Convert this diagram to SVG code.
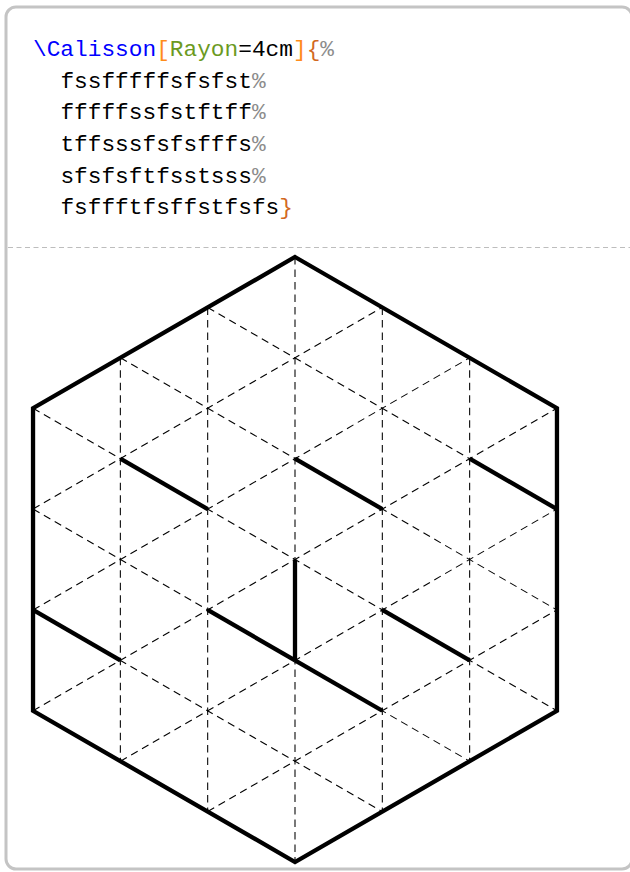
<svg xmlns="http://www.w3.org/2000/svg" width="630" height="872" viewBox="0 0 630 872">
<style>
.code{font-family:"Liberation Mono","DejaVu Sans Mono",monospace;font-size:22.8px;fill:#000}
.kw{fill:#0000ff}
.br{fill:#ff8c1a}
.opt{fill:#6b9a1f}
.brace{fill:#d2691e}
.cm{fill:#8c8c8c}
.grid line{stroke:#000;stroke-width:1.06;stroke-dasharray:7.5 5;fill:none}
.thick line{stroke:#000;stroke-width:4.3;stroke-linecap:butt;fill:none}
</style>
<rect id="frame" x="6" y="7" width="626" height="862" rx="10" ry="10" fill="#fff" stroke="#c4c4c4" stroke-width="3"/>
<line id="separator" x1="8" y1="247.5" x2="630" y2="247.5" stroke="#bdbdbd" stroke-width="1.2" stroke-dasharray="5 3.5"/>
<g id="code" class="code">
<text x="33" y="56"><tspan class="kw">\Calisson</tspan><tspan class="br">[</tspan><tspan class="opt">Rayon</tspan>=4cm<tspan class="br">]</tspan><tspan class="brace">{</tspan><tspan class="cm">%</tspan></text>
<text x="60.4" y="87.7">fssfffffsfsfst<tspan class="cm">%</tspan></text>
<text x="60.4" y="119.3">fffffssfstftff<tspan class="cm">%</tspan></text>
<text x="60.4" y="151">tffsssfsfsfffs<tspan class="cm">%</tspan></text>
<text x="60.4" y="182.7">sfsfsftfsstsss<tspan class="cm">%</tspan></text>
<text x="60.4" y="214.3">fsffftfsffstfsfs<tspan class="brace">}</tspan></text>
</g>
<g id="grid" class="grid">
<line x1="120.35" y1="357.83" x2="120.35" y2="761.17"/>
<line x1="207.68" y1="307.42" x2="207.68" y2="811.58"/>
<line x1="295" y1="257" x2="295" y2="862"/>
<line x1="382.32" y1="307.42" x2="382.32" y2="811.58"/>
<line x1="469.65" y1="357.83" x2="469.65" y2="761.17"/>
<line x1="207.68" y1="307.42" x2="556.97" y2="509.08"/>
<line x1="120.35" y1="357.83" x2="556.97" y2="609.92"/>
<line x1="33.03" y1="408.25" x2="556.97" y2="710.75"/>
<line x1="33.03" y1="509.08" x2="469.65" y2="761.17"/>
<line x1="33.03" y1="609.92" x2="382.32" y2="811.58"/>
<line x1="33.03" y1="509.08" x2="382.32" y2="307.42"/>
<line x1="33.03" y1="609.92" x2="469.65" y2="357.83"/>
<line x1="33.03" y1="710.75" x2="556.97" y2="408.25"/>
<line x1="120.35" y1="761.17" x2="556.97" y2="509.08"/>
<line x1="207.68" y1="811.58" x2="556.97" y2="609.92"/>
</g>
<g id="edges" class="thick">
<line x1="120.35" y1="458.67" x2="207.68" y2="509.08"/>
<line x1="295" y1="458.67" x2="382.32" y2="509.08"/>
<line x1="469.65" y1="458.67" x2="556.97" y2="509.08"/>
<line x1="295" y1="559.5" x2="295" y2="660.33"/>
<line x1="207.68" y1="609.92" x2="295" y2="660.33"/>
<line x1="295" y1="660.33" x2="382.32" y2="710.75"/>
<line x1="382.32" y1="609.92" x2="469.65" y2="660.33"/>
<line x1="33.03" y1="609.92" x2="120.35" y2="660.33"/>
</g>
<g id="hexagon">
<polygon points="295,257 556.97,408.25 556.97,710.75 295,862 33.03,710.75 33.03,408.25" fill="none" stroke="#000" stroke-width="4.3" stroke-linejoin="miter"/>
</g>
</svg>
